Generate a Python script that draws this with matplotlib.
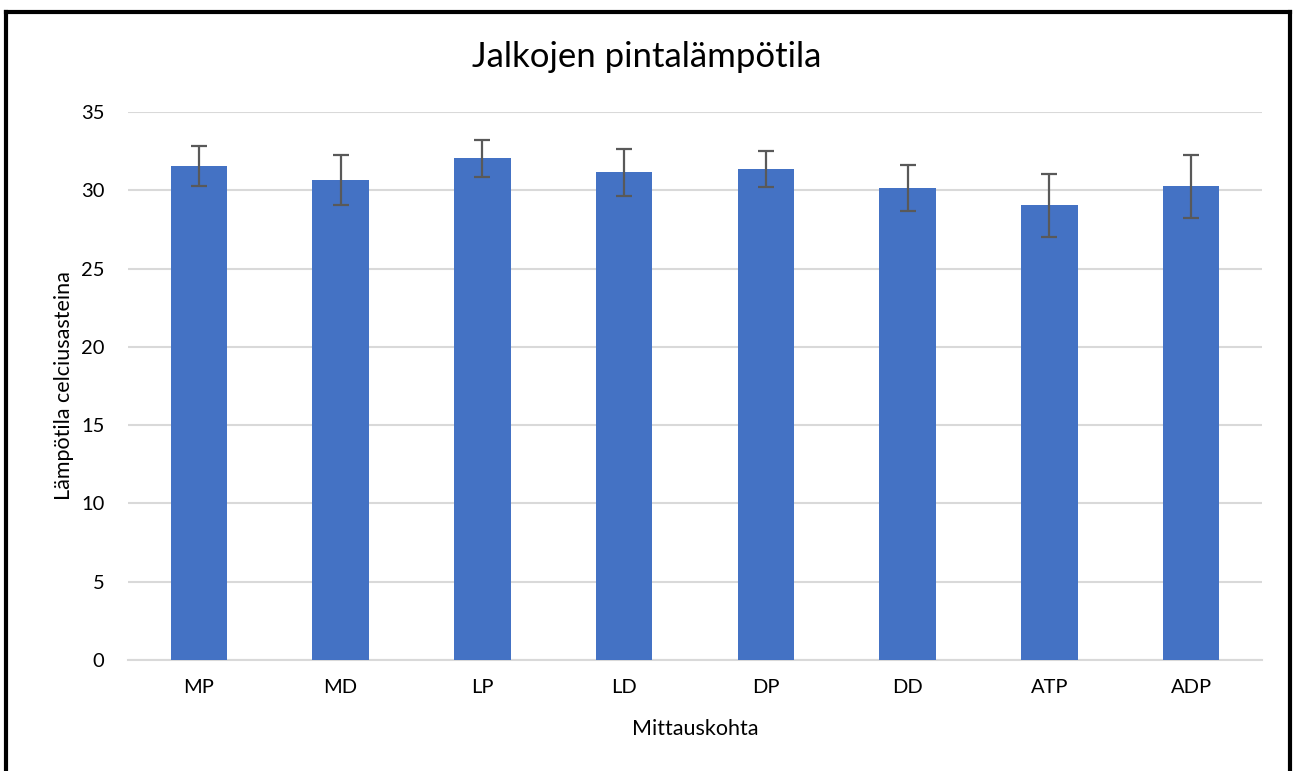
import matplotlib
matplotlib.use("Agg")
import matplotlib.pyplot as plt
from matplotlib.lines import Line2D

categories = ["MP", "MD", "LP", "LD", "DP", "DD", "ATP", "ADP"]
means = [31.55, 30.63, 32.04, 31.14, 31.33, 30.15, 29.04, 30.25]
errors = [1.27, 1.6, 1.16, 1.48, 1.15, 1.47, 2.0, 2.0]
yticks = [0, 5, 10, 15, 20, 25, 30, 35]

plt.rcParams['font.family'] = ['Lato', 'DejaVu Sans']

fig = plt.figure(figsize=(12.94, 7.71), dpi=100)
ax = fig.add_axes([128/1294, 111/771, (1262-128)/1294, (660-112)/771])

x = list(range(len(categories)))
ax.bar(x, means, width=0.4, color="#4472C4", zorder=3,
       yerr=errors, ecolor="#595959",
       error_kw=dict(elinewidth=1.6, capsize=6, capthick=1.6, zorder=4))

ax.set_xlim(-0.5, len(categories) - 0.5)
ax.set_ylim(0, 35)
ax.set_yticks(yticks)
ax.set_xticks(x)
ax.set_xticklabels(categories)
ax.yaxis.grid(True, color="#d9d9d9", linewidth=1.5, zorder=0)
ax.set_axisbelow(True)
for s in ["top", "right", "left"]:
    ax.spines[s].set_visible(False)
ax.spines["bottom"].set_color("#d9d9d9")
ax.spines["bottom"].set_linewidth(1.5)
ax.tick_params(axis="both", length=0, labelsize=14.5, colors="black")
ax.tick_params(axis="y", pad=17)
ax.tick_params(axis="x", pad=14)

ax.set_xlabel("Mittauskohta", fontsize=15.5, labelpad=16)
ax.set_ylabel("Lämpötila celciusasteina", fontsize=15.5)
ax.yaxis.set_label_coords(-(128 - 74) / (1262 - 128), 0.5)
fig.text(0.5, 1 - 57/771, "Jalkojen pintalämpötila", ha="center", va="center", fontsize=25)

# frame (left, top, right)
lw = 3
fig.add_artist(Line2D([6/1294, 6/1294], [0, 1 - 12/771], transform=fig.transFigure, color="black", linewidth=lw))
fig.add_artist(Line2D([6/1294, 1290/1294], [1 - 12/771, 1 - 12/771], transform=fig.transFigure, color="black", linewidth=lw))
fig.add_artist(Line2D([1290/1294, 1290/1294], [0, 1 - 12/771], transform=fig.transFigure, color="black", linewidth=lw))

fig.savefig("out.png", dpi=100, facecolor="white")
